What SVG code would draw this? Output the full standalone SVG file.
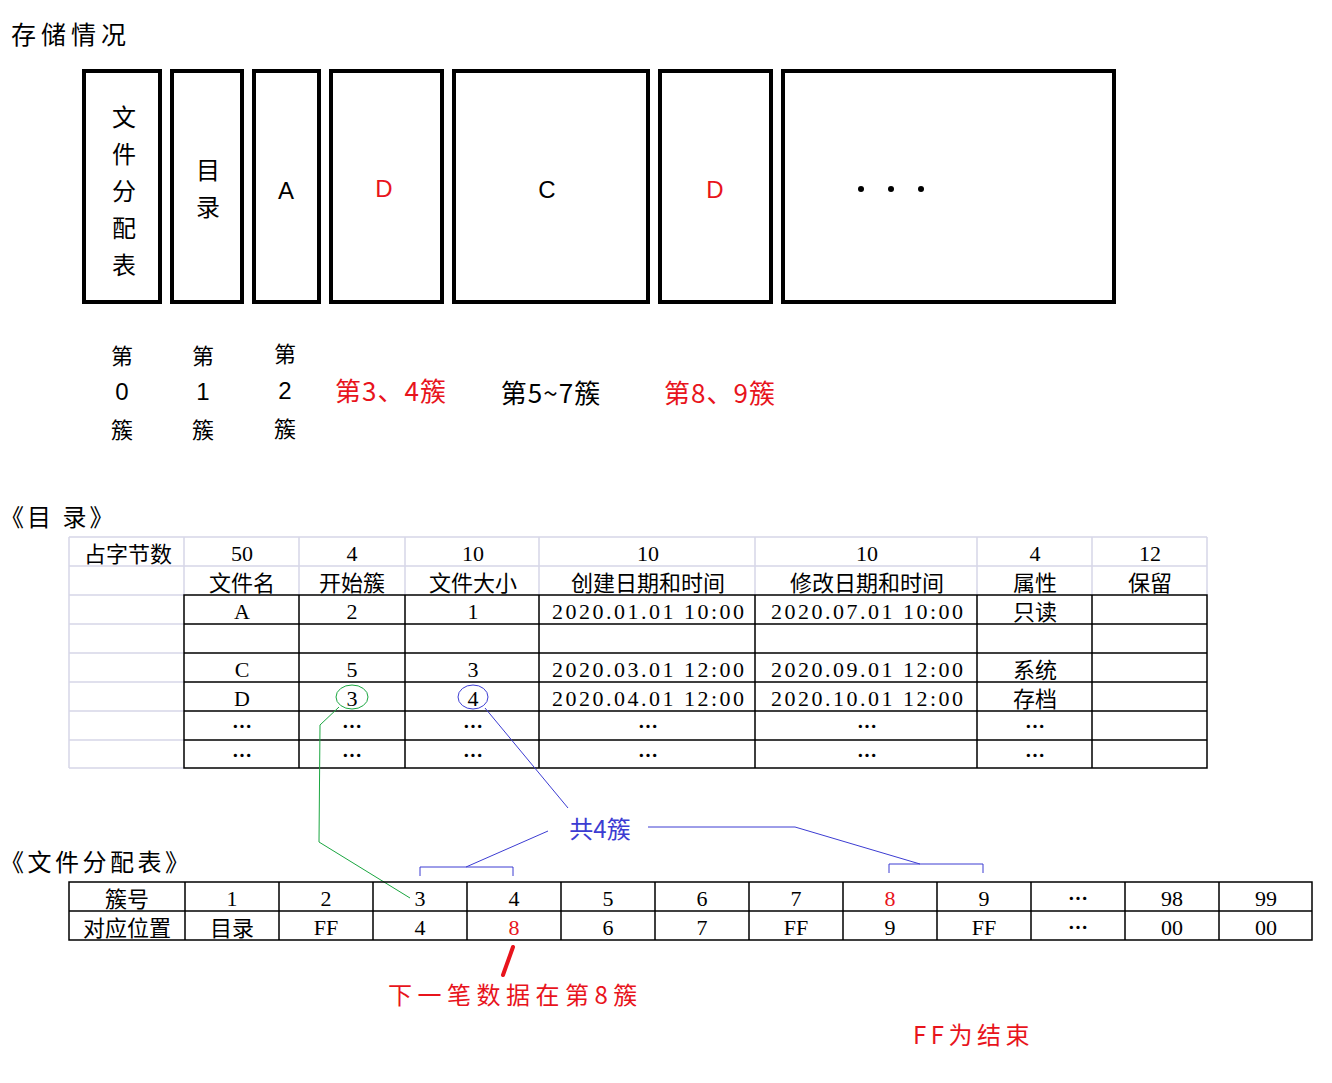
<svg xmlns="http://www.w3.org/2000/svg" width="1332" height="1083" viewBox="0 0 1332 1083">
<style>
.cjk{font-family:"Noto Sans CJK SC","Liberation Sans",sans-serif;}
.ser{font-family:"Liberation Serif","Noto Sans CJK SC",serif;}
.san{font-family:"Liberation Sans","Noto Sans CJK SC",sans-serif;}
.box{fill:none;stroke:#000;stroke-width:4;}
.c{text-anchor:middle;dominant-baseline:central;}
.red{fill:#e8141c;}
.blue{fill:#3c3cd2;}
.gl{stroke:#d6d6e8;stroke-width:1.5;fill:none;}
.bl{stroke:#000;stroke-width:1.5;fill:none;}
.t22{font-size:22px;}
.t20{font-size:22px;}
.t24{font-size:24px;}
.t26{font-size:26px;}
</style>
<rect width="1332" height="1083" fill="#fff"/>
<text class="cjk" font-size="25" x="11" y="33" dominant-baseline="central" letter-spacing="5">存储情况</text>

<g id="storage">
<g id="box-fat"><rect class="box" x="84" y="71" width="76" height="231"/>
<text class="cjk t24 c" x="124" y="115">文</text><text class="cjk t24 c" x="124" y="152">件</text><text class="cjk t24 c" x="124" y="189">分</text><text class="cjk t24 c" x="124" y="226">配</text><text class="cjk t24 c" x="124" y="263">表</text></g>
<g id="box-dir"><rect class="box" x="172" y="71" width="70" height="231"/>
<text class="cjk t24 c" x="208" y="168">目</text><text class="cjk t24 c" x="208" y="205">录</text></g>
<g id="box-a"><rect class="box" x="254" y="71" width="65" height="231"/><text class="san t24 c" x="286" y="190">A</text></g>
<g id="box-d1"><rect class="box" x="331" y="71" width="111" height="231"/><text class="san t24 c red" x="384" y="188">D</text></g>
<g id="box-c"><rect class="box" x="454" y="71" width="194" height="231"/><text class="san t24 c" x="547" y="189">C</text></g>
<g id="box-d2"><rect class="box" x="660" y="71" width="111" height="231"/><text class="san t24 c red" x="715" y="189">D</text></g>
<g id="box-more"><rect class="box" x="783" y="71" width="331" height="231"/>
<circle cx="861" cy="189" r="3"/><circle cx="891" cy="189" r="3"/><circle cx="921" cy="189" r="3"/></g>
</g>

<g id="cluster-labels">
<text class="cjk t22 c" x="122" y="354">第</text><text class="san t24 c" x="122" y="391">0</text><text class="cjk t22 c" x="122" y="428">簇</text>
<text class="cjk t22 c" x="203" y="354">第</text><text class="san t24 c" x="203" y="391">1</text><text class="cjk t22 c" x="203" y="428">簇</text>
<text class="cjk t22 c" x="285" y="352">第</text><text class="san t24 c" x="285" y="390">2</text><text class="cjk t22 c" x="285" y="427">簇</text>
<text class="cjk t26 c red" x="391" y="389" letter-spacing="1">第3、4簇</text>
<text class="cjk t26 c" x="551" y="391" letter-spacing="1">第5~7簇</text>
<text class="cjk t26 c red" x="720" y="391" letter-spacing="1">第8、9簇</text>
</g>

<text class="cjk t24" x="0" y="515" dominant-baseline="central" letter-spacing="3">《目 录》</text>

<g id="dir-table">
<g class="gl">
<path d="M69 537H1207M69 566H1207M69 595H184M69 624H184M69 653H184M69 682H184M69 711H184M69 740H184M69 768H184"/>
<path d="M69 537V768M184 537V595M299 537V595M405 537V595M539 537V595M755 537V595M977 537V595M1092 537V595M1207 537V595"/>
</g>
<g class="bl">
<rect x="184" y="595" width="1023" height="173"/>
<path d="M184 624H1207M184 653H1207M184 682H1207M184 711H1207M184 740H1207"/>
<path d="M299 595V768M405 595V768M539 595V768M755 595V768M977 595V768M1092 595V768"/>
</g>
<g class="t20">
<text class="cjk t22 c" x="128" y="552">占字节数</text>
<text class="ser c" x="242" y="553">50</text><text class="ser c" x="352" y="553">4</text><text class="ser c" x="473" y="553">10</text><text class="ser c" x="648" y="553">10</text><text class="ser c" x="867" y="553">10</text><text class="ser c" x="1035" y="553">4</text><text class="ser c" x="1150" y="553">12</text>
<text class="cjk t22 c" x="242" y="581">文件名</text><text class="cjk t22 c" x="352" y="581">开始簇</text><text class="cjk t22 c" x="473" y="581">文件大小</text><text class="cjk t22 c" x="648" y="581">创建日期和时间</text><text class="cjk t22 c" x="867" y="581">修改日期和时间</text><text class="cjk t22 c" x="1035" y="581">属性</text><text class="cjk t22 c" x="1150" y="581">保留</text>
<text class="ser c" x="242" y="611">A</text><text class="ser c" x="352" y="611">2</text><text class="ser c" x="473" y="611">1</text>
<text class="ser c" x="648" y="611" textLength="192" lengthAdjust="spacing">2020.01.01  10:00</text><text class="ser c" x="867" y="611" textLength="192" lengthAdjust="spacing">2020.07.01  10:00</text><text class="cjk t22 c" x="1035" y="610">只读</text>
<text class="ser c" x="242" y="669">C</text><text class="ser c" x="352" y="669">5</text><text class="ser c" x="473" y="669">3</text>
<text class="ser c" x="648" y="669" textLength="192" lengthAdjust="spacing">2020.03.01  12:00</text><text class="ser c" x="867" y="669" textLength="192" lengthAdjust="spacing">2020.09.01  12:00</text><text class="cjk t22 c" x="1035" y="668">系统</text>
<text class="ser c" x="242" y="698">D</text><text class="ser c" x="352" y="698">3</text><text class="ser c" x="473" y="698">4</text>
<text class="ser c" x="648" y="698" textLength="192" lengthAdjust="spacing">2020.04.01  12:00</text><text class="ser c" x="867" y="698" textLength="192" lengthAdjust="spacing">2020.10.01  12:00</text><text class="cjk t22 c" x="1035" y="697">存档</text>
<text class="cjk c" x="242" y="725" font-size="20" font-weight="bold">…</text><text class="cjk c" x="352" y="725" font-size="20" font-weight="bold">…</text><text class="cjk c" x="473" y="725" font-size="20" font-weight="bold">…</text><text class="cjk c" x="648" y="725" font-size="20" font-weight="bold">…</text><text class="cjk c" x="867" y="725" font-size="20" font-weight="bold">…</text><text class="cjk c" x="1035" y="725" font-size="20" font-weight="bold">…</text>
<text class="cjk c" x="242" y="754" font-size="20" font-weight="bold">…</text><text class="cjk c" x="352" y="754" font-size="20" font-weight="bold">…</text><text class="cjk c" x="473" y="754" font-size="20" font-weight="bold">…</text><text class="cjk c" x="648" y="754" font-size="20" font-weight="bold">…</text><text class="cjk c" x="867" y="754" font-size="20" font-weight="bold">…</text><text class="cjk c" x="1035" y="754" font-size="20" font-weight="bold">…</text>
</g>
</g>

<g id="connectors" fill="none">
<ellipse cx="352" cy="697" rx="16" ry="12" stroke="#1aa640" stroke-width="1"/>
<ellipse cx="473" cy="697" rx="15" ry="12" stroke="#3c3cd2" stroke-width="1"/>
<polyline points="339,707 320,725 319,842 410,898" stroke="#1aa640" stroke-width="1"/>
<polyline points="485,708 568,808" stroke="#3c3cd2" stroke-width="1"/>
<polyline points="548,831 466,867" stroke="#3c3cd2" stroke-width="1"/>
<path d="M420 876V867H513V876" stroke="#3c3cd2" stroke-width="1"/>
<polyline points="648,827 795,827 920,864" stroke="#3c3cd2" stroke-width="1"/>
<path d="M889 873V864H983V873" stroke="#3c3cd2" stroke-width="1"/>
<line x1="513" y1="947" x2="503" y2="975" stroke="#e8141c" stroke-width="4" stroke-linecap="round"/>
</g>
<text class="cjk t24 c blue" x="600" y="827">共4簇</text>

<text class="cjk t24" x="0" y="860" dominant-baseline="central" letter-spacing="3.5">《文件分配表》</text>

<g id="fat-table">
<g class="bl">
<rect x="69" y="882" width="1243" height="58"/>
<path d="M69 911H1312"/>
<path d="M185 882V940M279 882V940M373 882V940M467 882V940M561 882V940M655 882V940M749 882V940M843 882V940M937 882V940M1031 882V940M1125 882V940M1219 882V940"/>
</g>
<g class="t20">
<text class="cjk t22 c" x="127" y="897">簇号</text>
<text class="ser c" x="232" y="898">1</text><text class="ser c" x="326" y="898">2</text><text class="ser c" x="420" y="898">3</text><text class="ser c" x="514" y="898">4</text><text class="ser c" x="608" y="898">5</text><text class="ser c" x="702" y="898">6</text><text class="ser c" x="796" y="898">7</text><text class="ser c red" x="890" y="898">8</text><text class="ser c" x="984" y="898">9</text><text class="cjk c" x="1078" y="897" font-size="20" font-weight="bold">…</text><text class="ser c" x="1172" y="898">98</text><text class="ser c" x="1266" y="898">99</text>
<text class="cjk t22 c" x="127" y="926">对应位置</text>
<text class="cjk t22 c" x="232" y="926">目录</text><text class="ser c" x="326" y="927">FF</text><text class="ser c" x="420" y="927">4</text><text class="ser c red" x="514" y="927">8</text><text class="ser c" x="608" y="927">6</text><text class="ser c" x="702" y="927">7</text><text class="ser c" x="796" y="927">FF</text><text class="ser c" x="890" y="927">9</text><text class="ser c" x="984" y="927">FF</text><text class="cjk c" x="1078" y="926" font-size="20" font-weight="bold">…</text><text class="ser c" x="1172" y="927">00</text><text class="ser c" x="1266" y="927">00</text>
</g>
</g>

<text class="cjk t24 red" x="388" y="993" dominant-baseline="central" letter-spacing="5.5">下一笔数据在第8簇</text>
<text class="cjk t24 red" x="913" y="1033" dominant-baseline="central" letter-spacing="4.5">FF为结束</text>
</svg>
